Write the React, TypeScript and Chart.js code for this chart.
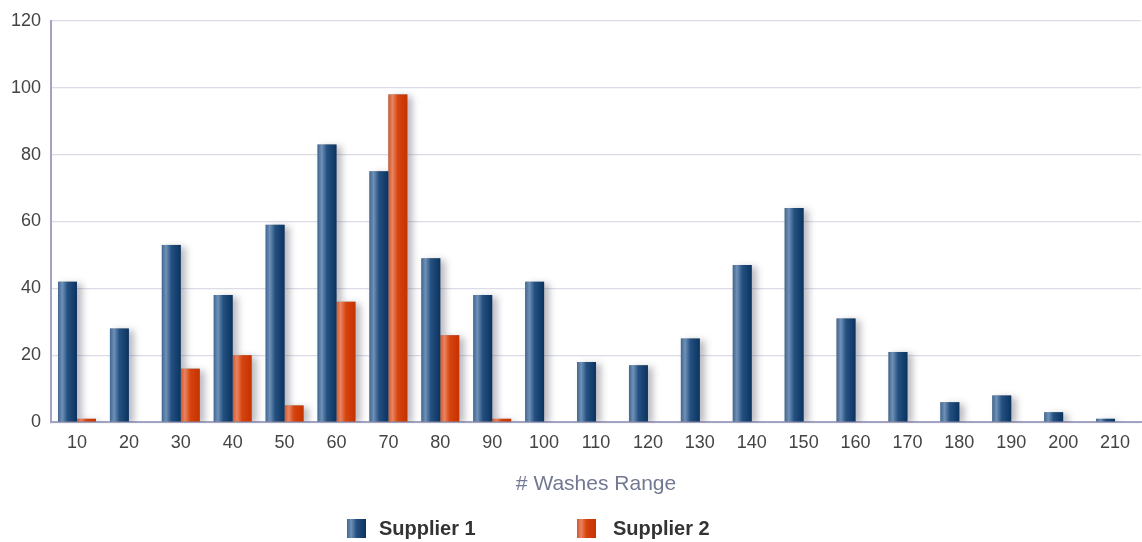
import React, { useEffect, useRef } from "react";
import { Chart, registerables } from "chart.js";

Chart.register(...registerables);

const categories = ["10","20","30","40","50","60","70","80","90","100","110","120","130","140","150","160","170","180","190","200","210"];
const supplier1 = [42, 28, 53, 38, 59, 83, 75, 49, 38, 42, 18, 17, 25, 47, 64, 31, 21, 6, 8, 3, 1];
const supplier2 = [1, 0, 16, 20, 5, 36, 98, 26, 1, 0, 0, 0, 0, 0, 0, 0, 0, 0, 0, 0, 0];
const seriesNames = ["Supplier 1", "Supplier 2"];
const yTicks = [0, 20, 40, 60, 80, 100, 120];

const FONT = 'Arial, "Liberation Sans", sans-serif';

const blueStops: [number, string][] = [[0, "#3f6792"], [0.22, "#6f91b8"], [0.5, "#24507f"], [1, "#0a3361"]];
const redStops: [number, string][] = [[0, "#d4582c"], [0.22, "#ea8460"], [0.5, "#d5430f"], [1, "#c63200"]];
const solidColors = ["#1d4676", "#d0400c"];

function makeGrad(ctx: CanvasRenderingContext2D, x0: number, x1: number, stops: [number, string][]) {
  const g = ctx.createLinearGradient(x0, 0, x1, 0);
  stops.forEach(([o, c]) => g.addColorStop(o, c));
  return g;
}

const barStyle = {
  id: "barStyle",
  beforeDatasetsDraw(chart: any) {
    const ctx: CanvasRenderingContext2D = chart.ctx;
    const area = chart.chartArea;
    ctx.save();
    ctx.beginPath();
    ctx.rect(area.left, area.top, area.right - area.left, area.bottom - area.top);
    ctx.clip();
    ctx.shadowColor = "rgba(70,70,90,0.38)";
    ctx.shadowOffsetX = 5;
    ctx.shadowOffsetY = 2;
    ctx.shadowBlur = 7;
    chart.data.datasets.forEach((_: any, di: number) => {
      const meta = chart.getDatasetMeta(di);
      meta.data.forEach((el: any) => {
        const h = el.base - el.y;
        if (h <= 0.5) return;
        ctx.fillStyle = "#888";
        ctx.fillRect(el.x - el.width / 2, el.y, el.width, h);
      });
    });
    ctx.restore();
    chart.data.datasets.forEach((_: any, di: number) => {
      const meta = chart.getDatasetMeta(di);
      const stops = di === 0 ? blueStops : redStops;
      meta.data.forEach((el: any) => {
        const g = makeGrad(ctx, el.x - el.width / 2, el.x + el.width / 2, stops);
        el.options = Object.assign({}, el.options, { backgroundColor: g });
      });
    });
  },
};

const customLegend = {
  id: "customLegend",
  afterDraw(chart: any) {
    const ctx: CanvasRenderingContext2D = chart.ctx;
    const items = [
      { box: 347, text: 379, stops: blueStops },
      { box: 577, text: 613, stops: redStops },
    ];
    const cy = 528.5;
    ctx.save();
    items.forEach((it, i) => {
      ctx.fillStyle = makeGrad(ctx, it.box, it.box + 19, it.stops);
      ctx.fillRect(it.box, cy - 9.5, 19, 19);
      ctx.fillStyle = "#333";
      ctx.font = "bold 20px " + FONT;
      ctx.textBaseline = "middle";
      ctx.textAlign = "left";
      ctx.fillText(seriesNames[i], it.text, cy + 1);
    });
    ctx.restore();
  },
};

export default function App() {
  const ref = useRef<HTMLCanvasElement | null>(null);
  useEffect(() => {
    document.body.style.margin = "0";
    if (!ref.current) return;
    const chart = new Chart(ref.current, {
      type: "bar",
      data: {
        labels: categories,
        datasets: [
          { label: seriesNames[0], data: supplier1, backgroundColor: solidColors[0], borderWidth: 0 },
          { label: seriesNames[1], data: supplier2, backgroundColor: solidColors[1], borderWidth: 0 },
        ],
      },
      options: {
        responsive: true,
        maintainAspectRatio: false,
        animation: false,
        layout: { padding: { left: 1, right: 1, top: 9, bottom: 45 } },
        datasets: { bar: { categoryPercentage: 0.73, barPercentage: 1.0 } },
        plugins: { legend: { display: false }, tooltip: { enabled: false } },
        scales: {
          x: {
            grid: { display: false, drawTicks: false },
            border: { display: true, color: "#a3a3c3", width: 2 },
            ticks: { color: "#444", font: { family: FONT, size: 18 }, padding: 10, maxRotation: 0, autoSkip: false },
            title: {
              display: true,
              text: "# Washes Range",
              color: "#737892",
              font: { family: FONT, size: 21 },
              padding: { top: 8, bottom: 0 },
            },
          },
          y: {
            min: 0,
            max: 120,
            afterBuildTicks: (scale: any) => {
              scale.ticks = yTicks.map((v) => ({ value: v }));
            },
            grid: { color: "#dcdce8", lineWidth: 1.2, drawTicks: false },
            border: { display: true, color: "#a3a3c3", width: 2 },
            ticks: { color: "#444", font: { family: FONT, size: 18 }, padding: 10 },
          },
        },
      },
      plugins: [barStyle, customLegend],
    });
    return () => chart.destroy();
  }, []);
  return (
    <div style={{ width: 1142, height: 542, position: "relative" }}>
      <canvas ref={ref} />
    </div>
  );
}
